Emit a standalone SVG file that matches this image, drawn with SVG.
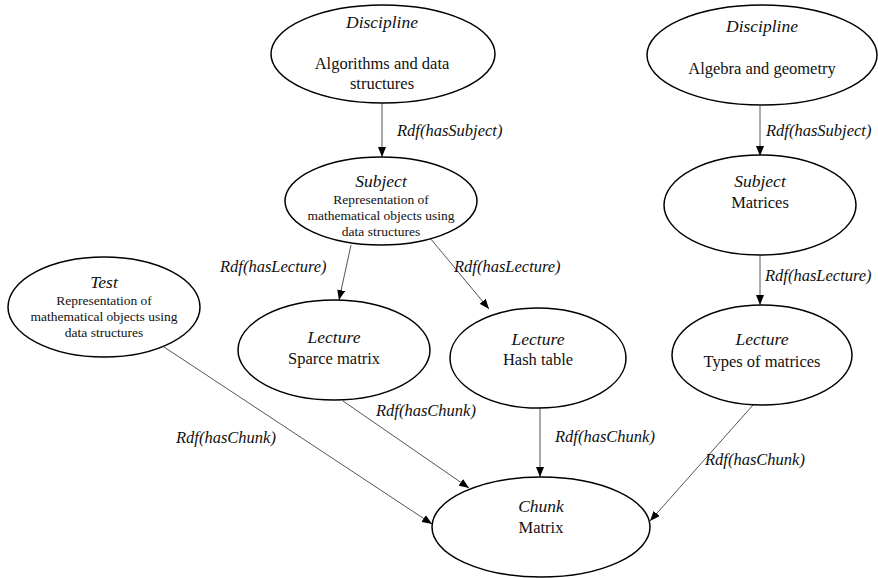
<svg xmlns="http://www.w3.org/2000/svg" width="878" height="578" viewBox="0 0 878 578" font-family="'Liberation Serif', 'DejaVu Serif', serif">
<defs>
<marker id="arr" markerUnits="userSpaceOnUse" markerWidth="10" markerHeight="8" refX="10" refY="4" orient="auto">
<path d="M0,0 L10,4 L0,8 Z" fill="#000"/>
</marker>
<style>
.node ellipse{fill:#fff;stroke:#000;stroke-width:1.5}
text{font-family:'Liberation Serif','DejaVu Serif',serif;fill:#111;text-anchor:middle}
.t{font-style:italic;font-size:17.5px}
.m{font-size:16.5px}
.s{font-size:13.5px}
.lbl{font-style:italic;font-size:16.5px;text-anchor:start}
.edges line{stroke:#555;stroke-width:1;marker-end:url(#arr)}
</style>
</defs>
<rect width="878" height="578" fill="#fff"/>
<g class="edges">
<line x1="382" y1="103" x2="382" y2="157"/>
<line x1="760" y1="106" x2="760" y2="156"/>
<line x1="351" y1="245" x2="339" y2="300"/>
<line x1="430" y1="238" x2="489" y2="309"/>
<line x1="760" y1="255" x2="760" y2="305"/>
<line x1="161" y1="345" x2="432" y2="524"/>
<line x1="343" y1="401" x2="469" y2="488"/>
<line x1="540" y1="408" x2="540" y2="477"/>
<line x1="753" y1="405" x2="650" y2="521"/>
<text class="lbl" x="397" y="136">Rdf(hasSubject)</text>
<text class="lbl" x="766" y="136">Rdf(hasSubject)</text>
<text class="lbl" x="220" y="272">Rdf(hasLecture)</text>
<text class="lbl" x="454" y="272">Rdf(hasLecture)</text>
<text class="lbl" x="765" y="281">Rdf(hasLecture)</text>
<text class="lbl" x="176" y="443">Rdf(hasChunk)</text>
<text class="lbl" x="376" y="416">Rdf(hasChunk)</text>
<text class="lbl" x="555" y="442">Rdf(hasChunk)</text>
<text class="lbl" x="705" y="465">Rdf(hasChunk)</text>
</g>
<g id="discipline1" class="node">
<ellipse cx="383" cy="54" rx="112" ry="49"/>
<text class="t" x="382" y="28">Discipline</text>
<text class="m" x="382" y="69">Algorithms and data</text>
<text class="m" x="382" y="89">structures</text>
</g>
<g id="discipline2" class="node">
<ellipse cx="762" cy="55" rx="115" ry="50"/>
<text class="t" x="762" y="32">Discipline</text>
<text class="m" x="762" y="74">Algebra and geometry</text>
</g>
<g id="subject1" class="node">
<ellipse cx="381" cy="201" rx="96" ry="44"/>
<text class="t" x="381" y="187">Subject</text>
<text class="s" x="381" y="204">Representation of</text>
<text class="s" x="381" y="220">mathematical objects using</text>
<text class="s" x="381" y="236">data structures</text>
</g>
<g id="subject2" class="node">
<ellipse cx="760" cy="205" rx="96" ry="50"/>
<text class="t" x="760" y="187">Subject</text>
<text class="m" x="760" y="208">Matrices</text>
</g>
<g id="test" class="node">
<ellipse cx="104" cy="307" rx="96" ry="50"/>
<text class="t" x="104" y="288">Test</text>
<text class="s" x="104" y="305">Representation of</text>
<text class="s" x="104" y="321">mathematical objects using</text>
<text class="s" x="104" y="337">data structures</text>
</g>
<g id="lecture1" class="node">
<ellipse cx="334" cy="350" rx="96" ry="50"/>
<text class="t" x="334" y="343">Lecture</text>
<text class="m" x="334" y="364">Sparce matrix</text>
</g>
<g id="lecture2" class="node">
<ellipse cx="538" cy="358" rx="88" ry="50"/>
<text class="t" x="538" y="345">Lecture</text>
<text class="m" x="538" y="365">Hash table</text>
</g>
<g id="lecture3" class="node">
<ellipse cx="762" cy="355" rx="90" ry="50"/>
<text class="t" x="762" y="345">Lecture</text>
<text class="m" x="762" y="367">Types of matrices</text>
</g>
<g id="chunk" class="node">
<ellipse cx="541" cy="527" rx="109" ry="50"/>
<text class="t" x="541" y="512">Chunk</text>
<text class="m" x="541" y="533">Matrix</text>
</g>
</svg>
